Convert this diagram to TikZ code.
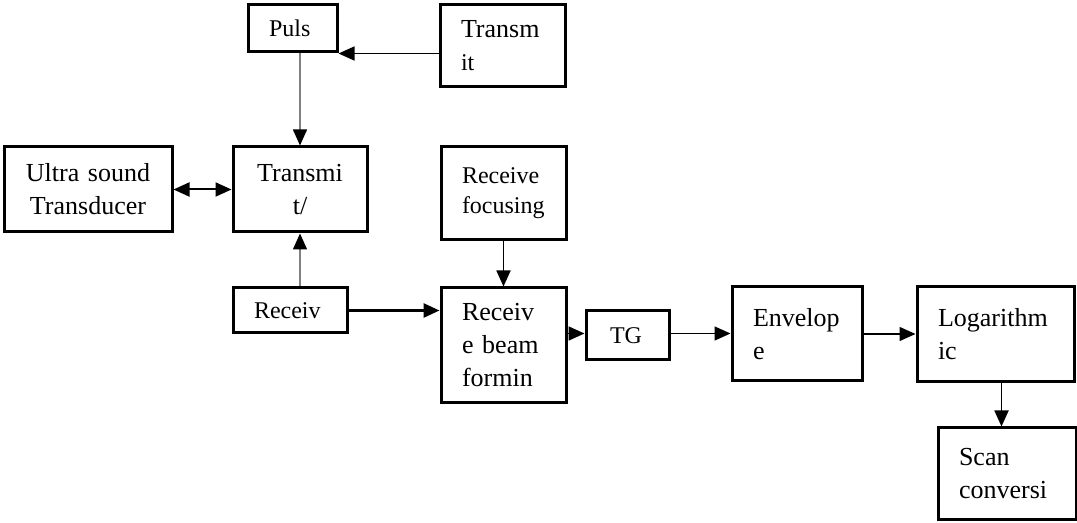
\documentclass[tikz,border=0pt]{standalone}
\usepackage{fontspec}
\setmainfont{Liberation Serif}
\usetikzlibrary{arrows.meta}
\newcommand{\bigtxt}{\fontsize{13}{16.5}\selectfont}
\newcommand{\smalltxt}{\fontsize{12}{15}\selectfont}

\begin{document}
\begin{tikzpicture}[x=0.5pt,y=-0.5pt,
  blk/.style={draw,line width=1.5pt,inner xsep=10.5pt,inner ysep=0pt,
    align=left,font=\bigtxt},
  mid/.style={blk,align=center,inner xsep=6pt},
  small/.style={font=\smalltxt},
  flow/.style={-{Triangle[length=8pt,width=7pt]},line width=0.9pt},
  feed/.style={-{Triangle[length=8pt,width=7pt,color=black]},
    draw=black!50,line width=0.7pt},
  both/.style={{Triangle[length=8pt,width=7pt]}-{Triangle[length=8pt,width=7pt]},
    line width=1pt}
]
\useasboundingbox (0,0) rectangle (1077,523);

% top row
\node[blk,small,text width=23.5pt,minimum height=23.5pt] (puls) at (292.5,28.5) {Puls};
\node[blk,text width=41.5pt,minimum height=41pt] (tx) at (502.5,46)
  {Transm\\{\smalltxt it}};

% transducer and switch
\node[mid,text width=72pt,minimum height=42.5pt] (ultra) at (88,189.5)
  {Ultra sound\\Transducer};
\node[mid,text width=55pt,minimum height=42.5pt] (txrx) at (300,189.5)
  {Transmi\\t/};
\node[blk,small,text width=41.5pt,minimum height=46.5pt] (rxfocus) at (503.5,193.5)
  {Receive\\focusing};

% receive chain
\node[blk,small,text width=36pt,minimum height=22.5pt] (rcv) at (290,310.5) {Receiv};
\node[blk,text width=41.5pt,minimum height=57.5pt] (beam) at (503.5,345.5)
  {Receiv\\e beam\\formin};
\node[blk,small,text width=17.5pt,minimum height=24.5pt,inner xsep=12pt] (tgc)
  at (627.5,335.5) {TG};
\node[blk,text width=44pt,minimum height=47pt] (env) at (797,334) {Envelop\\e};
\node[blk,text width=57.5pt,minimum height=47.5pt] (logc) at (995.5,334)
  {Logarithm\\ic};
\node[blk,text width=48pt,minimum height=46pt] (scan) at (1007,474)
  {Scan\\conversi};

\draw[flow,line width=0.8pt] (puls.south east -| tx.west) -- (puls.south east);
\draw[feed] (puls.south -| txrx.north) -- (txrx.north);
\draw[both] (ultra.east) -- (txrx.west);
\draw[feed] (rcv.north -| txrx.south) -- (txrx.south);
\draw[flow,line width=1.4pt] (rcv.east) -- (rcv.east -| beam.west);
\draw[flow] (rxfocus.south) -- (beam.north);
\draw[flow] ([yshift=1pt]tgc.west -| beam.east) -- ([yshift=1pt]tgc.west);
\draw[flow,line width=0.7pt] ([yshift=1pt]tgc.east) -- ([yshift=1pt]tgc.east -| env.west);
\draw[flow,line width=0.7pt] (env.east) -- (env.east -| logc.west);
\draw[flow] ([xshift=3pt]logc.south) -- ([xshift=3pt]logc.south |- scan.north);
\end{tikzpicture}
\end{document}
